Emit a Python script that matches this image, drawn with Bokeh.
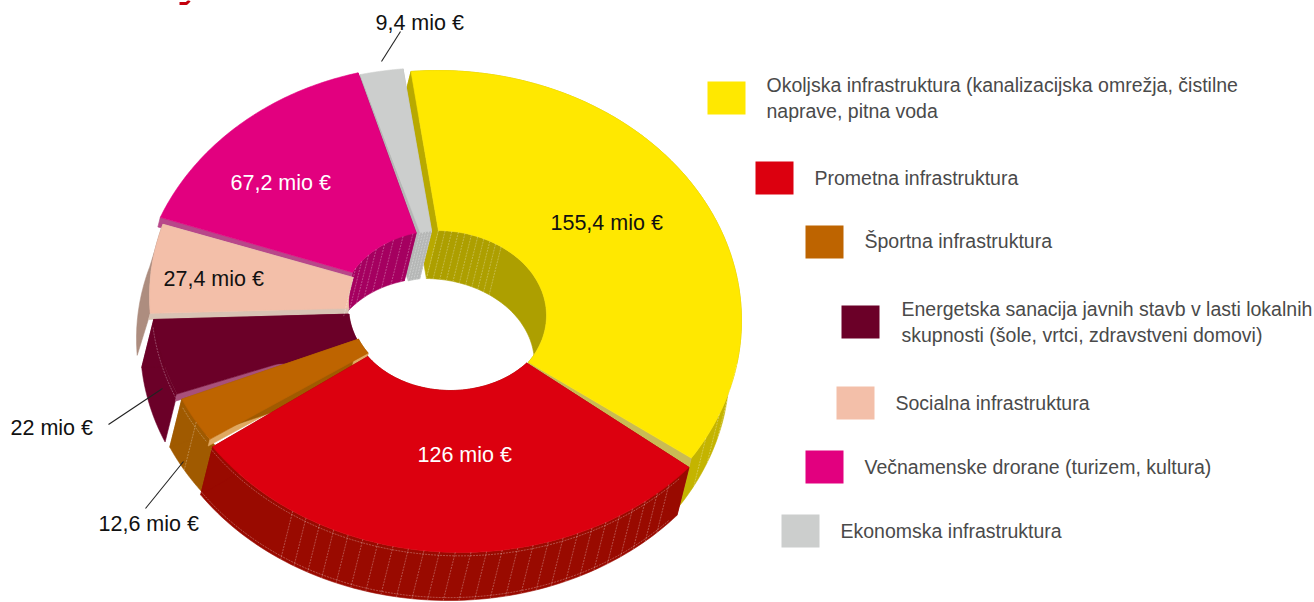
import numpy as np
from bokeh.plotting import figure
from bokeh.embed import file_html
from bokeh.resources import INLINE
from bokeh.core.properties import value

# ---- data
categories = ["Okoljska infrastruktura", "Prometna infrastruktura", "Športna infrastruktura",
              "Energetska sanacija", "Socialna infrastruktura", "Večnamenske drorane", "Ekonomska infrastruktura"]
values = [155.4, 126.0, 12.6, 22.0, 27.4, 67.2, 9.4]
value_labels = ["155,4 mio €", "126 mio €", "12,6 mio €", "22 mio €", "27,4 mio €", "67,2 mio €", "9,4 mio €"]
legend_labels = [["Okoljska infrastruktura (kanalizacijska omrežja, čistilne", "naprave, pitna voda"],
                 ["Prometna infrastruktura"],
                 ["Športna infrastruktura"],
                 ["Energetska sanacija javnih stavb v lasti lokalnih", "skupnosti (šole, vrtci, zdravstveni domovi)"],
                 ["Socialna infrastruktura"],
                 ["Večnamenske drorane (turizem, kultura)"],
                 ["Ekonomska infrastruktura"]]

# ---- styles
face = ["#FFE800", "#DC000F", "#BE6400", "#6B0028", "#F3BFA9", "#E2007F", "#CCCECD"]
outer_wall = ["#C4B400", "#990A00", "#A05A00", "#6B0028", "#AD8D7F", None, None]
inner_wall = ["#AD9F00", "#990A00", "#A05A00", "#6B0028", "#C99A8A", "#A50060", "#B5B7B6"]
side_start = ["#B8A900", "#990A00", "#E0A860", "#A8507A", "#D9C3B4", "#B8478A", "#B5B7B6"]
side_end = ["#C9BB55", "#990A00", "#A05A00", "#6B0028", "#D9C3B4", "#A50060", "#B5B7B6"]
side_depth_start = [1.0, 1.0, 0.14, 0.15, 0.13, 0.2, 1.0]
cx = [437, 460, 459, 456, 451, 428, 436]
cy = [320, 310, 299, 297, 296, 310, 312]
rx = [304, 300, 304, 304, 302, 290, 320]
ry = [250, 242, 245, 245, 245, 245, 245]
icx = [436, 450, 453, 456, 451, 440, 440]
icy = [315, 312, 304, 306, 302, 310, 312]
irx = [110, 100, 104, 108, 103, 100, 85]
iry = [85, 78, 85, 85, 85, 80, 82]
gap_start = [1.0, 3.2, 0.0, 0.8, 1.2, 4.0, 0.3]
gap_end = [3.8, -0.5, 0.0, 0.0, 1.2, 0.0, 0.0]
inner_gap_start = [6.0, 0.0, 0.0, 0.0, 0.0, 6.0, 0.0]
wall_extend = [0.0, 0.0, 1.5, 0.0, 0.0, 0.0, 0.0]
wall_shift = [(-12, 48), (-12, 48), (-12, 48), (-12, 48), (-13, 42), (-12, 48), (-12, 48)]
draw_order = [0, 6, 5, 4, 3, 2, 1]
start_angle = -6.0
depth = (-12.0, 48.0)

W, H = 1314, 602
p = figure(width=W, height=H, x_range=(0, W), y_range=(H, 0), toolbar_location=None,
           output_backend="svg", min_border=0, outline_line_color=None,
           background_fill_color="white", border_fill_color="white")
p.axis.visible = False
p.grid.visible = False


def arc(x0, y0, a, b, t0, t1, n=80):
    t = np.radians(np.linspace(t0, t1, n))
    return x0 + a * np.sin(t), y0 - b * np.cos(t)


total = sum(values)
spans = [v / total * 360 for v in values]
starts = [start_angle + s for s in np.cumsum([0] + spans[:-1])]

xs, ys, fc = [], [], []
hair_x, hair_y = [], []


def add(px, py, c):
    xs.append(list(px))
    ys.append(list(py))
    fc.append(c)


def wall(centre, a, b, t0, t1, c, shift):
    x1, y1 = arc(centre[0], centre[1], a, b, t0, t1)
    add(np.r_[x1, x1[::-1] + shift[0]], np.r_[y1, y1[::-1] + shift[1]], c)


# angular hairline ranges on walls: (wedge, outer?, from, to, step)
hair_spec = [(1, True, 136, 216, 3.0), (0, False, 1, 38, 3.5), (5, False, 302, 346, 6.0),
             (6, False, 346, 354, 2.0), (0, True, 100, 122, 6.0), (2, True, 240, 240, 1.0)]
# long hairlines following walls: (wedge, from, to, fraction of depth)
hair_arcs = [(1, 133, 236, 0.07), (1, 133, 236, 0.94), (3, 247, 264, 0.09), (2, 236, 245, 0.1)]

for i in draw_order:
    t0 = starts[i] + gap_start[i]
    t1 = starts[i] + spans[i] - gap_end[i]
    ti0 = t0 + inner_gap_start[i]
    oc = (cx[i], cy[i])
    ic = (icx[i], icy[i])
    wall(ic, irx[i], iry[i], ti0, t1, inner_wall[i], depth)
    if outer_wall[i]:
        wall(oc, rx[i], ry[i], t0 - wall_extend[i], t1, outer_wall[i], wall_shift[i])
    # radial side walls
    for t, ti, c, f in ((t0, ti0, side_start[i], side_depth_start[i]), (t1, t1, side_end[i], 1.0)):
        ox, oy = arc(*oc, rx[i], ry[i], t, t, 1)
        ix, iy = arc(*ic, irx[i], iry[i], ti, ti, 1)
        add([ox[0], ix[0], ix[0] + f * depth[0], ox[0] + f * depth[0]],
            [oy[0], iy[0], iy[0] + f * depth[1], oy[0] + f * depth[1]], c)
    ox, oy = arc(*oc, rx[i], ry[i], t0, t1)
    ix, iy = arc(*ic, irx[i], iry[i], t1, ti0)
    add(np.r_[ox, ix], np.r_[oy, iy], face[i])

p.patches(xs, ys, fill_color=fc, line_color=fc, line_width=0.6)

for w, is_outer, a0, a1, step in hair_spec:
    for t in np.arange(a0, a1 + 0.01, step):
        c, a, b = ((cx[w], cy[w]), rx[w], ry[w]) if is_outer else ((icx[w], icy[w]), irx[w], iry[w])
        x, y = arc(*c, a, b, t, t, 1)
        hair_x.append([x[0], x[0] + depth[0]])
        hair_y.append([y[0], y[0] + depth[1]])
for w, a0, a1, f in hair_arcs:
    x, y = arc(cx[w], cy[w], rx[w], ry[w], a0, a1)
    hair_x.append(list(x + f * depth[0]))
    hair_y.append(list(y + f * depth[1]))
p.multi_line(hair_x, hair_y, line_color="white", line_alpha=0.4, line_width=0.7, line_dash="2 1")

# sliver of the cut-off title at the top edge, drawn as a mark
p.line([179, 186, 189], [3, 3, 0], line_color="#C4000C", line_width=3)

# value labels and leaders
lab_x = [550, 417, 98, 10, 163, 230, 375]
lab_y = [222, 454, 523, 427, 278, 182, 22]
lab_c = ["#111111", "#FFFFFF", "#111111", "#111111", "#111111", "#FFFFFF", "#111111"]
p.text(lab_x, lab_y, text=value_labels, text_color=lab_c, text_font=value("Liberation Sans"),
       text_font_size="21.5px", text_baseline="middle", text_align="left")
p.multi_line([[400, 381], [108, 162], [145, 183]], [[31, 61], [424, 388], [508, 461]],
             line_color="#222222", line_width=1.1)

# legend
leg_x = [707, 755, 805, 841, 836, 805, 781]
leg_y = [81, 161, 225, 305, 386, 450, 514]
leg_text_x = [766, 814, 864, 901, 895, 864, 840]
leg_text_y = [[84, 110], [177], [240], [308, 334], [402], [466], [530]]
for i in range(7):
    p.quad(left=[leg_x[i]], right=[leg_x[i] + 38], top=[leg_y[i]], bottom=[leg_y[i] + 33],
           fill_color=face[i], line_color=None)
    for s, y in zip(legend_labels[i], leg_text_y[i]):
        p.text([leg_text_x[i]], [y], text=[s], text_color="#4a4a4a", text_font=value("Liberation Sans"),
               text_font_size="19.5px", text_baseline="middle", text_align="left")

open("out.html", "w").write(file_html(p, INLINE))
